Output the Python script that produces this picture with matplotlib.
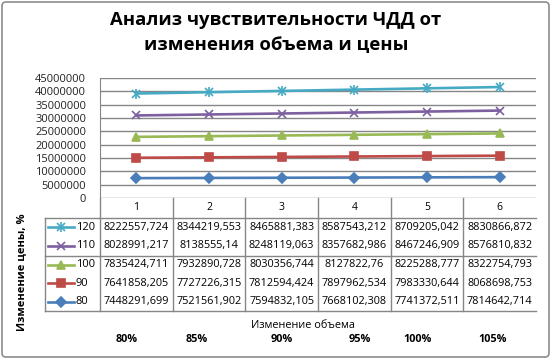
import matplotlib
matplotlib.use("Agg")
import matplotlib.pyplot as plt
from matplotlib.patches import FancyBboxPatch

plt.rcParams['font.family'] = ['Open Sans', 'DejaVu Sans']

categories = ["1", "2", "3", "4", "5", "6"]
volume_labels = ["80%", "85%", "90%", "95%", "100%", "105%"]
volume_label_x = [127, 197, 282, 360, 418, 493]   # pixel positions of the % labels

series_names = ["80", "90", "100", "110", "120"]
npv_80 = [7448291.699, 7521561.902, 7594832.105, 7668102.308, 7741372.511, 7814642.714]
npv_90 = [7641858.205, 7727226.315, 7812594.424, 7897962.534, 7983330.644, 8068698.753]
npv_100 = [7835424.711, 7932890.728, 8030356.744, 8127822.76, 8225288.777, 8322754.793]
npv_110 = [8028991.217, 8138555.14, 8248119.063, 8357682.986, 8467246.909, 8576810.832]
npv_120 = [8222557.724, 8344219.553, 8465881.383, 8587543.212, 8709205.042, 8830866.872]
series_values = [npv_80, npv_90, npv_100, npv_110, npv_120]

colors = ["#4A7EBB", "#BE4B48", "#98B954", "#7D60A0", "#46AAC5"]
markers = ["D", "s", "^", "x", "x"]

W, H = 552, 360
fig = plt.figure(figsize=(W / 100, H / 100), dpi=100)

# main plot area (pixels: x 100..536, y 78..198)
ax = fig.add_axes([100 / W, 1 - 198 / H, 436 / W, 120 / H])
x = list(range(1, len(categories) + 1))
cum = [0.0] * len(x)
for name, vals, c, m in zip(series_names, series_values, colors, markers):
    cum = [a + b for a, b in zip(cum, vals)]
    ms = 6 if m in ("s", "^") else 5.5
    ax.plot(x, cum, color=c, lw=1.9, marker=m, ms=ms, mew=1.2, zorder=3)
    if name == "120":
        ax.plot(x, cum, ls="none", color=c, marker="|", ms=7, mew=1.2, zorder=3)

ax.set_xlim(0.5, 6.5)
ax.set_ylim(0, 45000000)
ax.set_yticks(range(0, 45000001, 5000000))
ax.set_yticklabels([str(v) for v in range(0, 45000001, 5000000)], fontsize=8)
ax.tick_params(axis="y", length=0, pad=10, colors="#222222")
ax.set_xticks([])
ax.grid(axis="y", color="#868686", lw=1)
for s in ["top", "right", "bottom"]:
    ax.spines[s].set_visible(False)
ax.spines["left"].set_color("#868686")
ax.set_axisbelow(True)

# overlay in pixel coordinates for the data table and texts
ov = fig.add_axes([0, 0, 1, 1], facecolor="none")
ov.set_xlim(0, W)
ov.set_ylim(H, 0)
ov.axis("off")

ov.add_patch(FancyBboxPatch((2, 2), W - 5, H - 5, boxstyle="round,pad=0,rounding_size=4",
                            fill=False, ec="#8C8C8C", lw=1.2))

ov.text(W / 2, 20, "Анализ чувствительности ЧДД от", ha="center", va="center",
        fontsize=13.3, fontweight="bold")
ov.text(W / 2, 45, "изменения объема и цены", ha="center", va="center",
        fontsize=13.3, fontweight="bold")

col_w = 436 / 6
grid_c = "#868686"
top, bottom = 218, 311
# vertical lines
ov.plot([45, 45], [top, bottom], color=grid_c, lw=1)
ov.plot([100, 100], [198, bottom], color=grid_c, lw=1)
for i in range(1, 6):
    xv = 100 + col_w * i
    ov.plot([xv, xv], [198, bottom], color=grid_c, lw=1)
# horizontal lines
for yv in (top, 256, bottom):
    ov.plot([45, 536], [yv, yv], color=grid_c, lw=1)

for i, cat in enumerate(categories):
    ov.text(100 + col_w * (i + 0.5), 207, cat, ha="center", va="center", fontsize=7.5)

row_h = (bottom - top) / 5
for r, (name, vals, c, m) in enumerate(zip(series_names[::-1], series_values[::-1],
                                           colors[::-1], markers[::-1])):
    yc = top + row_h * (r + 0.5)
    ov.plot([48, 74], [yc, yc], color=c, lw=1.9)
    ms = 6 if m in ("s", "^") else 5.5
    ov.plot([61], [yc], color=c, marker=m, ms=ms, mew=1.2)
    if name == "120":
        ov.plot([61], [yc], color=c, marker="|", ms=7, mew=1.2)
    ov.text(76, yc, name, ha="left", va="center", fontsize=8)
    for i, v in enumerate(vals):
        txt = f"{v:.3f}".rstrip("0").rstrip(".").replace(".", ",")
        ov.text(100 + col_w * (i + 0.5), yc, txt, ha="center", va="center", fontsize=7.8)

ov.text(22, 272, "Изменение цены, %", rotation=90, ha="center", va="center",
        fontsize=8, fontweight="bold")
ov.text(303, 325, "Изменение объема", ha="center", va="center", fontsize=7.8)
for lbl, xv in zip(volume_labels, volume_label_x):
    ov.text(xv, 339, lbl, ha="center", va="center", fontsize=7.8, fontweight="bold")

fig.savefig("out.png", dpi=100)
